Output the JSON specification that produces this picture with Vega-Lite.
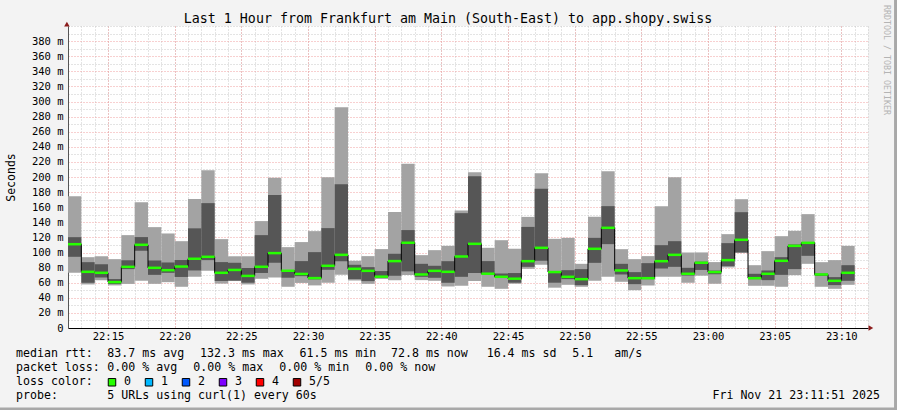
{
  "$schema": "https://vega.github.io/schema/vega-lite/v6.json",
  "width": 800,
  "height": 302,
  "autosize": {"type": "none"},
  "padding": {"left": 68, "top": 26, "right": 29, "bottom": 82},
  "background": "#f3f3f3",
  "config": {
    "view": {"fill": "#ffffff", "stroke": null},
    "font": "DejaVu Sans Mono"
  },
  "resolve": {"axis": {"x": "independent", "y": "independent"}},
  "datasets": {
    "smoke": [
      {"t": "2025-11-21T22:12:00Z", "t2": "2025-11-21T22:13:00Z", "lo": 73.1, "p2": 94.3, "md": 111.0, "p4": 120.3, "hi": 174.6},
      {"t": "2025-11-21T22:13:00Z", "t2": "2025-11-21T22:14:00Z", "lo": 57.7, "p2": 59.9, "md": 74.4, "p4": 87.2, "hi": 93.8},
      {"t": "2025-11-21T22:14:00Z", "t2": "2025-11-21T22:15:00Z", "lo": 63.4, "p2": 67.0, "md": 73.1, "p4": 84.6, "hi": 95.0},
      {"t": "2025-11-21T22:15:00Z", "t2": "2025-11-21T22:16:00Z", "lo": 56.4, "p2": 58.3, "md": 60.8, "p4": 64.8, "hi": 91.2},
      {"t": "2025-11-21T22:16:00Z", "t2": "2025-11-21T22:17:00Z", "lo": 58.4, "p2": 78.0, "md": 81.0, "p4": 89.7, "hi": 123.0},
      {"t": "2025-11-21T22:17:00Z", "t2": "2025-11-21T22:18:00Z", "lo": 62.5, "p2": 102.3, "md": 110.2, "p4": 120.4, "hi": 166.7},
      {"t": "2025-11-21T22:18:00Z", "t2": "2025-11-21T22:19:00Z", "lo": 58.5, "p2": 70.4, "md": 79.7, "p4": 89.4, "hi": 133.6},
      {"t": "2025-11-21T22:19:00Z", "t2": "2025-11-21T22:20:00Z", "lo": 60.7, "p2": 73.1, "md": 76.6, "p4": 86.8, "hi": 125.2},
      {"t": "2025-11-21T22:20:00Z", "t2": "2025-11-21T22:21:00Z", "lo": 54.6, "p2": 67.6, "md": 81.4, "p4": 90.0, "hi": 115.0},
      {"t": "2025-11-21T22:21:00Z", "t2": "2025-11-21T22:22:00Z", "lo": 67.8, "p2": 76.2, "md": 91.7, "p4": 132.0, "hi": 170.7},
      {"t": "2025-11-21T22:22:00Z", "t2": "2025-11-21T22:23:00Z", "lo": 75.8, "p2": 89.9, "md": 94.3, "p4": 165.4, "hi": 209.1},
      {"t": "2025-11-21T22:23:00Z", "t2": "2025-11-21T22:24:00Z", "lo": 58.8, "p2": 62.3, "md": 73.1, "p4": 87.3, "hi": 117.7},
      {"t": "2025-11-21T22:24:00Z", "t2": "2025-11-21T22:25:00Z", "lo": 62.2, "p2": 62.8, "md": 76.9, "p4": 86.4, "hi": 95.0},
      {"t": "2025-11-21T22:25:00Z", "t2": "2025-11-21T22:26:00Z", "lo": 57.7, "p2": 60.0, "md": 69.0, "p4": 79.5, "hi": 95.0},
      {"t": "2025-11-21T22:26:00Z", "t2": "2025-11-21T22:27:00Z", "lo": 65.2, "p2": 72.9, "md": 81.1, "p4": 123.0, "hi": 141.6},
      {"t": "2025-11-21T22:27:00Z", "t2": "2025-11-21T22:28:00Z", "lo": 66.8, "p2": 86.4, "md": 99.2, "p4": 176.0, "hi": 199.0},
      {"t": "2025-11-21T22:28:00Z", "t2": "2025-11-21T22:29:00Z", "lo": 54.6, "p2": 66.6, "md": 75.8, "p4": 76.8, "hi": 107.1},
      {"t": "2025-11-21T22:29:00Z", "t2": "2025-11-21T22:30:00Z", "lo": 59.7, "p2": 68.7, "md": 71.6, "p4": 88.6, "hi": 113.8},
      {"t": "2025-11-21T22:30:00Z", "t2": "2025-11-21T22:31:00Z", "lo": 56.4, "p2": 64.4, "md": 66.1, "p4": 100.5, "hi": 128.3},
      {"t": "2025-11-21T22:31:00Z", "t2": "2025-11-21T22:32:00Z", "lo": 59.9, "p2": 77.1, "md": 82.4, "p4": 132.3, "hi": 199.8},
      {"t": "2025-11-21T22:32:00Z", "t2": "2025-11-21T22:33:00Z", "lo": 70.4, "p2": 88.5, "md": 96.9, "p4": 190.5, "hi": 292.4},
      {"t": "2025-11-21T22:33:00Z", "t2": "2025-11-21T22:34:00Z", "lo": 62.9, "p2": 64.7, "md": 78.4, "p4": 83.7, "hi": 89.0},
      {"t": "2025-11-21T22:34:00Z", "t2": "2025-11-21T22:35:00Z", "lo": 58.5, "p2": 62.1, "md": 75.7, "p4": 80.6, "hi": 95.2},
      {"t": "2025-11-21T22:35:00Z", "t2": "2025-11-21T22:36:00Z", "lo": 65.0, "p2": 67.0, "md": 68.0, "p4": 75.4, "hi": 104.5},
      {"t": "2025-11-21T22:36:00Z", "t2": "2025-11-21T22:37:00Z", "lo": 63.4, "p2": 69.2, "md": 88.6, "p4": 98.3, "hi": 153.5},
      {"t": "2025-11-21T22:37:00Z", "t2": "2025-11-21T22:38:00Z", "lo": 70.1, "p2": 75.0, "md": 112.9, "p4": 129.7, "hi": 217.5},
      {"t": "2025-11-21T22:38:00Z", "t2": "2025-11-21T22:39:00Z", "lo": 63.4, "p2": 67.8, "md": 70.9, "p4": 85.0, "hi": 96.5},
      {"t": "2025-11-21T22:39:00Z", "t2": "2025-11-21T22:40:00Z", "lo": 62.5, "p2": 66.5, "md": 75.7, "p4": 82.4, "hi": 103.1},
      {"t": "2025-11-21T22:40:00Z", "t2": "2025-11-21T22:41:00Z", "lo": 55.0, "p2": 59.9, "md": 74.4, "p4": 88.5, "hi": 108.8},
      {"t": "2025-11-21T22:41:00Z", "t2": "2025-11-21T22:42:00Z", "lo": 55.9, "p2": 67.8, "md": 94.7, "p4": 152.1, "hi": 155.6},
      {"t": "2025-11-21T22:42:00Z", "t2": "2025-11-21T22:43:00Z", "lo": 62.1, "p2": 72.7, "md": 111.5, "p4": 201.1, "hi": 206.4},
      {"t": "2025-11-21T22:43:00Z", "t2": "2025-11-21T22:44:00Z", "lo": 54.6, "p2": 71.0, "md": 71.9, "p4": 88.6, "hi": 106.2},
      {"t": "2025-11-21T22:44:00Z", "t2": "2025-11-21T22:45:00Z", "lo": 51.9, "p2": 67.0, "md": 67.8, "p4": 72.2, "hi": 116.3},
      {"t": "2025-11-21T22:45:00Z", "t2": "2025-11-21T22:46:00Z", "lo": 58.6, "p2": 60.0, "md": 65.3, "p4": 72.8, "hi": 105.0},
      {"t": "2025-11-21T22:46:00Z", "t2": "2025-11-21T22:47:00Z", "lo": 78.4, "p2": 81.0, "md": 88.5, "p4": 133.9, "hi": 147.2},
      {"t": "2025-11-21T22:47:00Z", "t2": "2025-11-21T22:48:00Z", "lo": 83.7, "p2": 89.0, "md": 106.2, "p4": 184.3, "hi": 205.0},
      {"t": "2025-11-21T22:48:00Z", "t2": "2025-11-21T22:49:00Z", "lo": 53.4, "p2": 60.0, "md": 74.1, "p4": 75.5, "hi": 118.1},
      {"t": "2025-11-21T22:49:00Z", "t2": "2025-11-21T22:50:00Z", "lo": 57.2, "p2": 64.7, "md": 67.8, "p4": 76.6, "hi": 119.4},
      {"t": "2025-11-21T22:50:00Z", "t2": "2025-11-21T22:51:00Z", "lo": 54.6, "p2": 56.8, "md": 64.7, "p4": 78.0, "hi": 85.0},
      {"t": "2025-11-21T22:51:00Z", "t2": "2025-11-21T22:52:00Z", "lo": 62.5, "p2": 86.3, "md": 104.9, "p4": 119.4, "hi": 147.2},
      {"t": "2025-11-21T22:52:00Z", "t2": "2025-11-21T22:53:00Z", "lo": 67.8, "p2": 111.1, "md": 132.7, "p4": 161.4, "hi": 207.7},
      {"t": "2025-11-21T22:53:00Z", "t2": "2025-11-21T22:54:00Z", "lo": 61.2, "p2": 70.9, "md": 76.2, "p4": 85.0, "hi": 104.4},
      {"t": "2025-11-21T22:54:00Z", "t2": "2025-11-21T22:55:00Z", "lo": 50.1, "p2": 58.1, "md": 66.0, "p4": 74.0, "hi": 91.2},
      {"t": "2025-11-21T22:55:00Z", "t2": "2025-11-21T22:56:00Z", "lo": 56.3, "p2": 64.7, "md": 66.0, "p4": 85.9, "hi": 95.2},
      {"t": "2025-11-21T22:56:00Z", "t2": "2025-11-21T22:57:00Z", "lo": 67.8, "p2": 78.8, "md": 88.5, "p4": 109.7, "hi": 161.4},
      {"t": "2025-11-21T22:57:00Z", "t2": "2025-11-21T22:58:00Z", "lo": 67.8, "p2": 81.0, "md": 96.9, "p4": 115.0, "hi": 199.8},
      {"t": "2025-11-21T22:58:00Z", "t2": "2025-11-21T22:59:00Z", "lo": 59.9, "p2": 69.5, "md": 71.8, "p4": 79.7, "hi": 100.0},
      {"t": "2025-11-21T22:59:00Z", "t2": "2025-11-21T23:00:00Z", "lo": 69.3, "p2": 76.9, "md": 86.4, "p4": 87.8, "hi": 100.1},
      {"t": "2025-11-21T23:00:00Z", "t2": "2025-11-21T23:01:00Z", "lo": 58.6, "p2": 71.2, "md": 74.1, "p4": 76.0, "hi": 87.3},
      {"t": "2025-11-21T23:01:00Z", "t2": "2025-11-21T23:02:00Z", "lo": 80.2, "p2": 81.9, "md": 89.9, "p4": 112.4, "hi": 124.3},
      {"t": "2025-11-21T23:02:00Z", "t2": "2025-11-21T23:03:00Z", "lo": 99.6, "p2": 100.0, "md": 116.8, "p4": 153.4, "hi": 170.6},
      {"t": "2025-11-21T23:03:00Z", "t2": "2025-11-21T23:04:00Z", "lo": 55.9, "p2": 64.7, "md": 66.0, "p4": 71.8, "hi": 83.2},
      {"t": "2025-11-21T23:04:00Z", "t2": "2025-11-21T23:05:00Z", "lo": 55.9, "p2": 63.4, "md": 71.8, "p4": 76.2, "hi": 101.8},
      {"t": "2025-11-21T23:05:00Z", "t2": "2025-11-21T23:06:00Z", "lo": 54.6, "p2": 70.4, "md": 89.0, "p4": 93.8, "hi": 121.6},
      {"t": "2025-11-21T23:06:00Z", "t2": "2025-11-21T23:07:00Z", "lo": 70.0, "p2": 78.0, "md": 108.8, "p4": 110.6, "hi": 128.7},
      {"t": "2025-11-21T23:07:00Z", "t2": "2025-11-21T23:08:00Z", "lo": 85.0, "p2": 95.6, "md": 112.8, "p4": 113.5, "hi": 150.8},
      {"t": "2025-11-21T23:08:00Z", "t2": "2025-11-21T23:09:00Z", "lo": 54.6, "p2": 69.0, "md": 70.9, "p4": 72.0, "hi": 87.2},
      {"t": "2025-11-21T23:09:00Z", "t2": "2025-11-21T23:10:00Z", "lo": 51.9, "p2": 56.8, "md": 62.5, "p4": 67.4, "hi": 89.9},
      {"t": "2025-11-21T23:10:00Z", "t2": "2025-11-21T23:11:00Z", "lo": 57.2, "p2": 62.5, "md": 73.1, "p4": 83.2, "hi": 108.8}
    ],
    "texts": [
      {"t": "2025-11-21T22:40:30Z", "v": 404, "txt": "Last 1 Hour from Frankfurt am Main (South-East) to app.shopy.swiss", "al": "center"},
      {"t": "2025-11-21T22:08:06Z", "v": -34.8, "txt": "median rtt:", "al": "left"},
      {"t": "2025-11-21T22:14:57Z", "v": -34.8, "txt": "83.7 ms avg", "al": "left"},
      {"t": "2025-11-21T22:21:54Z", "v": -34.8, "txt": "132.3 ms max", "al": "left"},
      {"t": "2025-11-21T22:29:22Z", "v": -34.8, "txt": "61.5 ms min", "al": "left"},
      {"t": "2025-11-21T22:36:13.500Z", "v": -34.8, "txt": "72.8 ms now", "al": "left"},
      {"t": "2025-11-21T22:43:24Z", "v": -34.8, "txt": "16.4 ms sd", "al": "left"},
      {"t": "2025-11-21T22:49:49Z", "v": -34.8, "txt": "5.1", "al": "left"},
      {"t": "2025-11-21T22:52:58Z", "v": -34.8, "txt": "am/s", "al": "left"},
      {"t": "2025-11-21T22:08:06Z", "v": -53.4, "txt": "packet loss:", "al": "left"},
      {"t": "2025-11-21T22:14:57Z", "v": -53.4, "txt": "0.00 % avg", "al": "left"},
      {"t": "2025-11-21T22:21:24Z", "v": -53.4, "txt": "0.00 % max", "al": "left"},
      {"t": "2025-11-21T22:27:51Z", "v": -53.4, "txt": "0.00 % min", "al": "left"},
      {"t": "2025-11-21T22:34:18Z", "v": -53.4, "txt": "0.00 % now", "al": "left"},
      {"t": "2025-11-21T22:08:06Z", "v": -71.9, "txt": "loss color:", "al": "left"},
      {"t": "2025-11-21T22:16:12Z", "v": -71.9, "txt": "0", "al": "left"},
      {"t": "2025-11-21T22:18:58.500Z", "v": -71.9, "txt": "1", "al": "left"},
      {"t": "2025-11-21T22:21:45Z", "v": -71.9, "txt": "2", "al": "left"},
      {"t": "2025-11-21T22:24:31.500Z", "v": -71.9, "txt": "3", "al": "left"},
      {"t": "2025-11-21T22:27:18Z", "v": -71.9, "txt": "4", "al": "left"},
      {"t": "2025-11-21T22:30:04.500Z", "v": -71.9, "txt": "5/5", "al": "left"},
      {"t": "2025-11-21T22:08:06Z", "v": -90.5, "txt": "probe:", "al": "left"},
      {"t": "2025-11-21T22:14:57Z", "v": -90.5, "txt": "5 URLs using curl(1) every 60s", "al": "left"},
      {"t": "2025-11-21T23:12:54Z", "v": -90.5, "txt": "Fri Nov 21 23:11:51 2025", "al": "right"}
    ],
    "losscolors": [
      {"t": "2025-11-21T22:15:18Z", "v": -71.9, "c": "#26ff00"},
      {"t": "2025-11-21T22:18:04.500Z", "v": -71.9, "c": "#00b8ff"},
      {"t": "2025-11-21T22:20:51Z", "v": -71.9, "c": "#0059ff"},
      {"t": "2025-11-21T22:23:37.500Z", "v": -71.9, "c": "#7e00ff"},
      {"t": "2025-11-21T22:26:24Z", "v": -71.9, "c": "#ff0000"},
      {"t": "2025-11-21T22:29:10.500Z", "v": -71.9, "c": "#a10000"}
    ],
    "watermark": [
      {"t": "2025-11-21T23:13:21Z", "v": 355, "txt": "RRDTOOL / TOBI OETIKER"}
    ],
    "arrows": [
      {"t": "2025-11-21T22:11:55Z", "v": 402.6, "s": "triangle-up"},
      {"t": "2025-11-21T23:12:13Z", "v": 0, "s": "triangle-right"}
    ],
    "framebottom": [
      {"t": "2025-11-21T22:06:54Z", "t2": "2025-11-21T23:14:11Z", "v": -107.3}
    ],
    "frameright": [
      {"t": "2025-11-21T23:14:04Z", "v": 435, "v2": -110}
    ]
  },
  "layer": [
    {
      "data": {"name": "smoke"},
      "mark": {"type": "rect", "color": "#a3a3a3"},
      "encoding": {
        "x": {
          "field": "t", "type": "temporal",
          "scale": {"type": "utc", "domain": [
            {"year": 2025, "month": 11, "date": 21, "hours": 22, "minutes": 12, "utc": true},
            {"year": 2025, "month": 11, "date": 21, "hours": 23, "minutes": 12, "utc": true}
          ]},
          "axis": {
            "orient": "bottom",
            "title": null,
            "tickCount": 60,
            "grid": true,
            "gridColor": "#c8c8c8",
            "gridDash": [1, 2],
            "labels": false,
            "ticks": false,
            "domain": false
          }
        },
        "x2": {"field": "t2"},
        "y": {
          "field": "lo", "type": "quantitative",
          "scale": {"domain": [0, 400], "nice": false, "zero": false},
          "axis": {
            "orient": "left",
            "title": null,
            "values": [10, 30, 50, 70, 90, 110, 130, 150, 170, 190, 210, 230, 250, 270, 290, 310, 330, 350, 370, 390, 400],
            "grid": true,
            "gridColor": "#c8c8c8",
            "gridDash": [1, 2],
            "labels": false,
            "ticks": false,
            "domain": false
          }
        },
        "y2": {"field": "hi"}
      }
    },
    {
      "data": {"name": "smoke"},
      "mark": {"type": "rect", "color": "#565656"},
      "encoding": {
        "x": {
          "field": "t", "type": "temporal",
          "axis": {
            "orient": "bottom",
            "title": null,
            "tickCount": 12,
            "format": "%H:%M",
            "grid": true,
            "gridColor": "#f0a0a0",
            "gridDash": [1, 2],
            "labelFont": "DejaVu Sans Mono",
            "labelFontSize": 10.5,
            "labelColor": "#000000",
            "labelPadding": 3,
            "labelFlush": false,
            "labelOverlap": false,
            "ticks": false,
            "domainColor": "#000000"
          }
        },
        "x2": {"field": "t2"},
        "y": {
          "field": "p2", "type": "quantitative",
          "axis": {
            "orient": "left",
            "title": "Seconds",
            "titleFont": "DejaVu Sans Mono",
            "titleFontSize": 11.5,
            "titleFontWeight": "normal",
            "titleColor": "#000000",
            "titlePadding": 15,
            "values": [0, 20, 40, 60, 80, 100, 120, 140, 160, 180, 200, 220, 240, 260, 280, 300, 320, 340, 360, 380],
            "labelExpr": "datum.value == 0 ? '0\u00a0\u00a0' : datum.label + ' m'",
            "grid": true,
            "gridColor": "#f0a0a0",
            "gridDash": [1, 2],
            "labelFont": "DejaVu Sans Mono",
            "labelFontSize": 10.5,
            "labelColor": "#000000",
            "labelPadding": 5,
            "labelOverlap": false,
            "ticks": false,
            "domainColor": "#555555"
          }
        },
        "y2": {"field": "p4"}
      }
    },
    {
      "data": {"name": "smoke"},
      "mark": {"type": "line", "interpolate": "step-after", "color": "#000000", "strokeWidth": 1},
      "encoding": {
        "x": {"field": "t", "type": "temporal", "axis": null},
        "y": {"field": "md", "type": "quantitative", "axis": null}
      }
    },
    {
      "data": {"name": "smoke"},
      "mark": {"type": "rule", "color": "#26ff00", "strokeWidth": 2.5},
      "encoding": {
        "x": {"field": "t", "type": "temporal", "axis": null},
        "x2": {"field": "t2"},
        "y": {"field": "md", "type": "quantitative", "axis": null}
      }
    },
    {
      "data": {"name": "texts"},
      "transform": [{"filter": "datum.al == 'left'"}],
      "mark": {"type": "text", "align": "left", "baseline": "middle", "font": "DejaVu Sans Mono", "fontSize": 11.6, "color": "#000000"},
      "encoding": {
        "x": {"field": "t", "type": "temporal", "axis": null},
        "y": {"field": "v", "type": "quantitative", "axis": null},
        "text": {"field": "txt"}
      }
    },
    {
      "data": {"name": "texts"},
      "transform": [{"filter": "datum.al == 'right'"}],
      "mark": {"type": "text", "align": "right", "baseline": "middle", "font": "DejaVu Sans Mono", "fontSize": 11.6, "color": "#000000"},
      "encoding": {
        "x": {"field": "t", "type": "temporal", "axis": null},
        "y": {"field": "v", "type": "quantitative", "axis": null},
        "text": {"field": "txt"}
      }
    },
    {
      "data": {"name": "texts"},
      "transform": [{"filter": "datum.al == 'center'"}],
      "mark": {"type": "text", "align": "center", "baseline": "alphabetic", "font": "DejaVu Sans Mono", "fontSize": 13.3, "color": "#000000"},
      "encoding": {
        "x": {"field": "t", "type": "temporal", "axis": null},
        "y": {"field": "v", "type": "quantitative", "axis": null},
        "text": {"field": "txt"}
      }
    },
    {
      "data": {"name": "losscolors"},
      "mark": {"type": "point", "shape": "square", "filled": true, "size": 56, "stroke": "#000000", "strokeWidth": 1, "opacity": 1},
      "encoding": {
        "x": {"field": "t", "type": "temporal", "axis": null},
        "y": {"field": "v", "type": "quantitative", "axis": null},
        "fill": {"field": "c", "type": "nominal", "scale": null}
      }
    },
    {
      "data": {"name": "watermark"},
      "mark": {"type": "text", "align": "center", "baseline": "middle", "angle": 90, "font": "DejaVu Sans Mono", "fontSize": 8.3, "color": "#b4b4b4"},
      "encoding": {
        "x": {"field": "t", "type": "temporal", "axis": null},
        "y": {"field": "v", "type": "quantitative", "axis": null},
        "text": {"field": "txt"}
      }
    },
    {
      "data": {"name": "arrows"},
      "mark": {"type": "point", "filled": true, "size": 30, "color": "#8c1c1c", "opacity": 1},
      "encoding": {
        "x": {"field": "t", "type": "temporal", "axis": null},
        "y": {"field": "v", "type": "quantitative", "axis": null},
        "shape": {"field": "s", "type": "nominal", "scale": null}
      }
    },
    {
      "data": {"name": "framebottom"},
      "mark": {"type": "rule", "color": "#a8a8a8", "strokeWidth": 3},
      "encoding": {
        "x": {"field": "t", "type": "temporal", "axis": null},
        "x2": {"field": "t2"},
        "y": {"field": "v", "type": "quantitative", "axis": null}
      }
    },
    {
      "data": {"name": "frameright"},
      "mark": {"type": "rule", "color": "#a8a8a8", "strokeWidth": 3},
      "encoding": {
        "x": {"field": "t", "type": "temporal", "axis": null},
        "y": {"field": "v", "type": "quantitative", "axis": null},
        "y2": {"field": "v2"}
      }
    }
  ]
}
